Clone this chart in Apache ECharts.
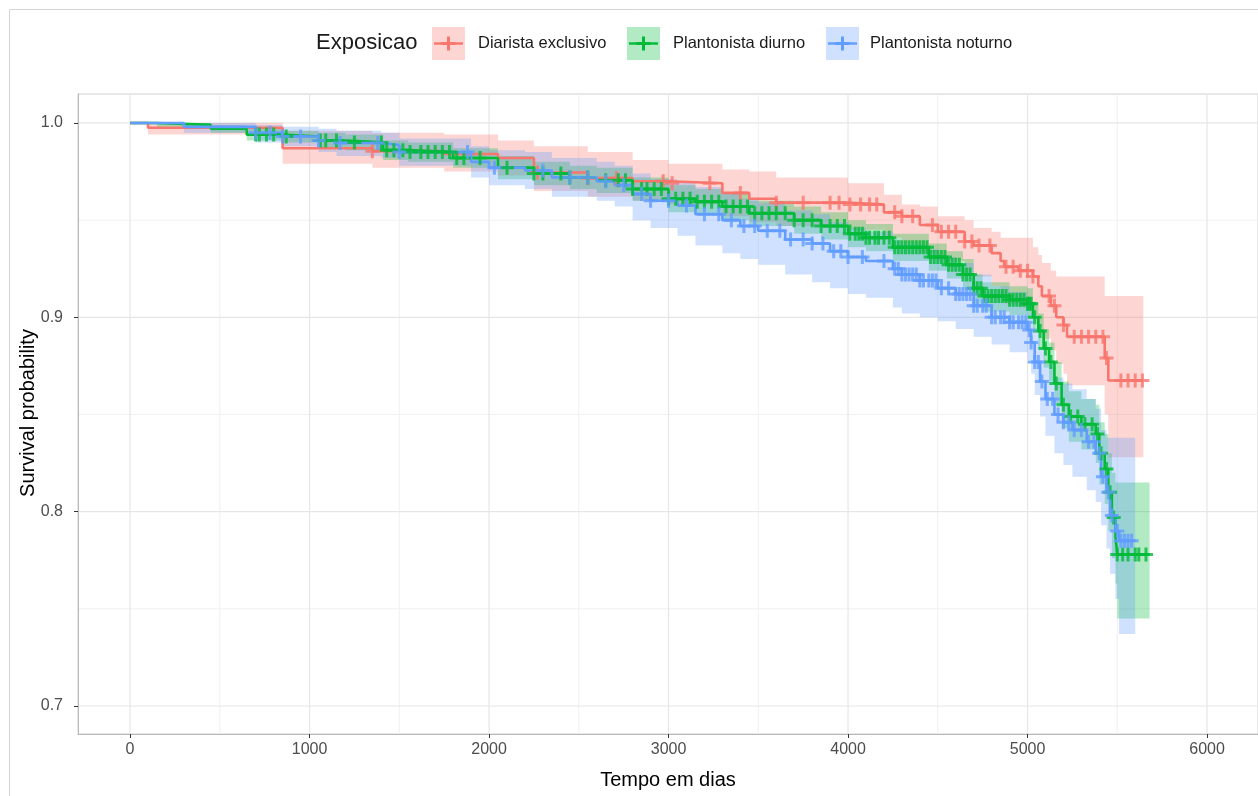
<!DOCTYPE html>
<html>
<head>
<meta charset="utf-8">
<script src="https://cdn.jsdelivr.net/npm/echarts@6/dist/echarts.min.js"></script>
<style>
  html, body { margin: 0; padding: 0; background: #fff; }
  #chart { width: 1258px; height: 796px; }
</style>
</head>
<body>
<div id="chart"></div>
<script>
// Diarista exclusivo
var T_RED = [0, 100, 850, 1350, 1750, 2050, 2250, 2550, 2800, 3000, 3300, 3450, 3600, 4000, 4200, 4300, 4400, 4500, 4650, 4700, 4800, 4850, 4870, 4950, 5030, 5060, 5080, 5130, 5160, 5200, 5220, 5430, 5450, 5645];
var S_RED = [1.0, 0.9975, 0.987, 0.9855, 0.984, 0.982, 0.9745, 0.9716, 0.970, 0.969, 0.964, 0.961, 0.959, 0.958, 0.954, 0.952, 0.9475, 0.944, 0.939, 0.937, 0.933, 0.929, 0.926, 0.924, 0.921, 0.916, 0.911, 0.906, 0.900, 0.896, 0.890, 0.879, 0.8675, 0.8675];
var U_RED = [1.0, 1.0, 0.996, 0.995, 0.994, 0.991, 0.988, 0.985, 0.981, 0.979, 0.976, 0.975, 0.972, 0.969, 0.963, 0.958, 0.957, 0.952, 0.950, 0.946, 0.944, 0.941, 0.941, 0.941, 0.936, 0.932, 0.928, 0.924, 0.921, 0.921, 0.921, 0.911, 0.911, 0.911];
var L_RED = [1.0, 0.994, 0.979, 0.977, 0.975, 0.973, 0.965, 0.962, 0.960, 0.958, 0.952, 0.949, 0.947, 0.945, 0.941, 0.938, 0.933, 0.929, 0.923, 0.921, 0.916, 0.911, 0.907, 0.905, 0.901, 0.895, 0.889, 0.883, 0.876, 0.871, 0.865, 0.850, 0.828, 0.828];
var C_RED = [1350, 2270, 2550, 2710, 2970, 3020, 3230, 3400, 3600, 3750, 3900, 3950, 4010, 4070, 4120, 4160, 4260, 4300, 4360, 4470, 4520, 4560, 4600, 4650, 4690, 4730, 4790, 4880, 4920, 4960, 5000, 5030, 5120, 5150, 5200, 5260, 5300, 5340, 5380, 5420, 5440, 5520, 5560, 5600, 5640];

// Plantonista diurno
var T_GREEN = [0, 150, 450, 650, 850, 1050, 1200, 1410, 1550, 1800, 2050, 2250, 2450, 2600, 2800, 3000, 3150, 3300, 3450, 3700, 3850, 4000, 4100, 4250, 4450, 4550, 4640, 4700, 4750, 4900, 5000, 5030, 5060, 5090, 5120, 5150, 5190, 5230, 5300, 5380, 5400, 5430, 5450, 5470, 5490, 5500, 5680];
var S_GREEN = [1.0, 0.999, 0.997, 0.994, 0.993, 0.991, 0.990, 0.986, 0.985, 0.982, 0.977, 0.974, 0.972, 0.9705, 0.966, 0.961, 0.9595, 0.957, 0.9535, 0.950, 0.947, 0.943, 0.941, 0.936, 0.931, 0.927, 0.922, 0.915, 0.911, 0.909, 0.907, 0.900, 0.893, 0.884, 0.877, 0.866, 0.855, 0.849, 0.845, 0.840, 0.830, 0.822, 0.810, 0.797, 0.787, 0.778, 0.778];
var U_GREEN = [1.0, 1.0, 0.999, 0.997, 0.996, 0.995, 0.994, 0.991, 0.990, 0.987, 0.983, 0.980, 0.978, 0.977, 0.972, 0.968, 0.966, 0.964, 0.960, 0.957, 0.954, 0.950, 0.948, 0.943, 0.938, 0.934, 0.930, 0.922, 0.918, 0.916, 0.915, 0.908, 0.902, 0.894, 0.887, 0.877, 0.867, 0.862, 0.858, 0.855, 0.846, 0.840, 0.830, 0.820, 0.815, 0.815, 0.815];
var L_GREEN = [1.0, 0.998, 0.995, 0.991, 0.990, 0.987, 0.986, 0.981, 0.980, 0.977, 0.971, 0.968, 0.966, 0.964, 0.960, 0.954, 0.953, 0.950, 0.947, 0.943, 0.940, 0.936, 0.934, 0.929, 0.924, 0.920, 0.914, 0.907, 0.903, 0.901, 0.899, 0.892, 0.884, 0.874, 0.867, 0.855, 0.843, 0.836, 0.832, 0.825, 0.814, 0.804, 0.790, 0.776, 0.763, 0.745, 0.745];
var C_GREEN = [700, 720, 760, 800, 870, 1060, 1090, 1150, 1250, 1400, 1430, 1470, 1520, 1560, 1620, 1660, 1700, 1740, 1780, 1820, 1860, 1950, 2100, 2250, 2300, 2400, 2450, 2550, 2650, 2720, 2760, 2800, 2850, 2880, 2920, 2960, 3000, 3040, 3080, 3120, 3160, 3200, 3240, 3280, 3320, 3360, 3400, 3440, 3480, 3520, 3560, 3600, 3650, 3700, 3750, 3800, 3850, 3900, 3940, 3980, 4010, 4040, 4060, 4080, 4100, 4120, 4150, 4170, 4200, 4230, 4260, 4280, 4300, 4320, 4340, 4360, 4380, 4400, 4420, 4440, 4460, 4480, 4500, 4520, 4540, 4560, 4580, 4600, 4620, 4640, 4660, 4680, 4700, 4720, 4740, 4760, 4780, 4800, 4820, 4840, 4860, 4880, 4900, 4920, 4940, 4960, 4980, 5000, 5010, 5020, 5040, 5070, 5100, 5130, 5160, 5200, 5240, 5280, 5320, 5360, 5390, 5410, 5440, 5460, 5480, 5500, 5530, 5560, 5600, 5620, 5660];

// Plantonista noturno
var T_BLUE = [0, 300, 700, 850, 1050, 1150, 1400, 1500, 1900, 2000, 2200, 2350, 2600, 2700, 2800, 2900, 3050, 3150, 3300, 3400, 3500, 3650, 3800, 3900, 4000, 4100, 4250, 4300, 4400, 4500, 4600, 4700, 4800, 4900, 5000, 5020, 5040, 5070, 5100, 5150, 5200, 5250, 5330, 5380, 5410, 5440, 5460, 5490, 5510, 5600];
var S_BLUE = [1.0, 0.998, 0.995, 0.993, 0.991, 0.9897, 0.9887, 0.985, 0.980, 0.977, 0.9755, 0.972, 0.970, 0.968, 0.9635, 0.960, 0.9575, 0.953, 0.950, 0.947, 0.9445, 0.940, 0.938, 0.934, 0.931, 0.929, 0.925, 0.922, 0.919, 0.915, 0.912, 0.906, 0.900, 0.8975, 0.8935, 0.887, 0.877, 0.867, 0.858, 0.850, 0.846, 0.842, 0.836, 0.830, 0.818, 0.810, 0.798, 0.790, 0.785, 0.785];
var U_BLUE = [1.0, 1.0, 0.999, 0.998, 0.997, 0.996, 0.995, 0.992, 0.988, 0.986, 0.985, 0.982, 0.980, 0.978, 0.974, 0.971, 0.970, 0.967, 0.964, 0.961, 0.959, 0.955, 0.953, 0.949, 0.946, 0.944, 0.940, 0.938, 0.935, 0.931, 0.928, 0.922, 0.916, 0.913, 0.909, 0.902, 0.893, 0.884, 0.876, 0.869, 0.866, 0.863, 0.858, 0.853, 0.842, 0.838, 0.838, 0.838, 0.838, 0.838];
var L_BLUE = [1.0, 0.995, 0.990, 0.988, 0.985, 0.983, 0.982, 0.978, 0.972, 0.968, 0.966, 0.962, 0.960, 0.957, 0.950, 0.946, 0.942, 0.937, 0.933, 0.930, 0.927, 0.922, 0.918, 0.915, 0.912, 0.910, 0.905, 0.902, 0.900, 0.898, 0.894, 0.890, 0.886, 0.882, 0.878, 0.871, 0.860, 0.849, 0.839, 0.830, 0.824, 0.818, 0.811, 0.805, 0.793, 0.781, 0.768, 0.755, 0.737, 0.737];
var C_BLUE = [700, 780, 850, 950, 1050, 1170, 1380, 1500, 1880, 2030, 2300, 2450, 2550, 2650, 2750, 2850, 2900, 3000, 3100, 3200, 3280, 3350, 3420, 3480, 3550, 3620, 3680, 3750, 3800, 3860, 3920, 3960, 4000, 4080, 4200, 4260, 4280, 4300, 4320, 4340, 4360, 4380, 4400, 4420, 4450, 4470, 4490, 4520, 4560, 4600, 4620, 4640, 4660, 4680, 4700, 4720, 4750, 4770, 4800, 4820, 4850, 4870, 4900, 4920, 4950, 4970, 4990, 5010, 5020, 5040, 5060, 5080, 5110, 5140, 5170, 5200, 5230, 5260, 5300, 5340, 5370, 5400, 5420, 5450, 5470, 5500, 5520, 5540, 5560, 5580];

var X_MAJOR = [0, 1000, 2000, 3000, 4000, 5000, 6000];
var X_MINOR = [500, 1500, 2500, 3500, 4500, 5500];
var Y_MAJOR = [0.7, 0.8, 0.9, 1.0];
var Y_MINOR = [0.75, 0.85, 0.95];

var NAMES = ['Diarista exclusivo', 'Plantonista diurno', 'Plantonista noturno'];
var COLORS = ['#F8766D', '#00BA38', '#619CFF'];
var FILLS = ['rgba(248,118,109,0.3)', 'rgba(0,186,56,0.3)', 'rgba(97,156,255,0.3)'];
var FONT = '"Liberation Sans", Arial, sans-serif';
// plus sign, ggplot shape 3
var PLUS = 'path://M5.5,0H8.5V5.5H14V8.5H8.5V14H5.5V8.5H0V5.5H5.5Z';

function survAt(t, s, x) {
    var v = s[0];
    for (var i = 0; i < t.length; i++) {
        if (t[i] <= x) v = s[i];
    }
    return v;
}

function gridSeries(values, dir, color, width) {
    return {
        type: 'custom', z: 0, silent: true, animation: false,
        data: values.map(function (v) { return dir === 'x' ? [v, 0.8] : [3000, v]; }),
        renderItem: function (params, api) {
            var cs = params.coordSys;
            if (dir === 'x') {
                var x = api.coord([api.value(0), 0.8])[0];
                return { type: 'line', shape: { x1: x, y1: cs.y, x2: x, y2: cs.y + cs.height }, style: { stroke: color, lineWidth: width } };
            }
            var y = api.coord([3000, api.value(1)])[1];
            return { type: 'line', shape: { x1: cs.x, y1: y, x2: cs.x + cs.width, y2: y }, style: { stroke: color, lineWidth: width } };
        }
    };
}

function bandSeries(t, u, l, fill) {
    return {
        type: 'custom', z: 1, silent: true, animation: false,
        data: [[t[0], u[0]]],
        renderItem: function (params, api) {
            var pts = [];
            for (var i = 0; i < t.length; i++) {
                pts.push(api.coord([t[i], u[i]]));
                if (i + 1 < t.length) pts.push(api.coord([t[i + 1], u[i]]));
            }
            for (var j = t.length - 1; j >= 0; j--) {
                if (j + 1 < t.length) pts.push(api.coord([t[j + 1], l[j]]));
                pts.push(api.coord([t[j], l[j]]));
            }
            return { type: 'polygon', shape: { points: pts }, style: { fill: fill } };
        }
    };
}

function lineSeries(t, s, color) {
    return {
        type: 'line', z: 2, step: 'end', symbol: 'none', silent: true,
        data: t.map(function (v, i) { return [v, s[i]]; }),
        lineStyle: { color: color, width: 2.6 }
    };
}

function censorSeries(c, t, s, color) {
    return {
        type: 'scatter', z: 3, silent: true, symbol: PLUS, symbolSize: 14,
        data: c.map(function (v) { return [v, survAt(t, s, v)]; }),
        itemStyle: { color: color }
    };
}

function legendKey(x, i) {
    return [
        { type: 'rect', shape: { x: x, y: 27, width: 33, height: 33 }, style: { fill: FILLS[i] } },
        { type: 'line', shape: { x1: x + 2, y1: 43.5, x2: x + 31, y2: 43.5 }, style: { stroke: COLORS[i], lineWidth: 2.4 } },
        { type: 'rect', shape: { x: x + 9.5, y: 42, width: 14, height: 3 }, style: { fill: COLORS[i] } },
        { type: 'rect', shape: { x: x + 15, y: 36.5, width: 3, height: 14 }, style: { fill: COLORS[i] } }
    ];
}

var graphics = [
    { type: 'line', shape: { x1: 9.5, y1: 9.5, x2: 1258, y2: 9.5 }, style: { stroke: '#d4d4d4', lineWidth: 1 } },
    { type: 'line', shape: { x1: 9.5, y1: 9.5, x2: 9.5, y2: 796 }, style: { stroke: '#d4d4d4', lineWidth: 1 } },
    { type: 'text', x: 316, y: 43, style: { text: 'Exposicao', font: '22px ' + FONT, fill: '#1a1a1a', verticalAlign: 'middle' } },
    { type: 'text', x: 28, y: 413, rotation: Math.PI / 2, style: { text: 'Survival probability', font: '20px ' + FONT, fill: '#000', align: 'center', verticalAlign: 'middle' } }
];
var keyX = [432, 627, 826];
var labX = [478, 673, 870];
for (var k = 0; k < 3; k++) {
    graphics = graphics.concat(legendKey(keyX[k], k));
    graphics.push({ type: 'text', x: labX[k], y: 43, style: { text: NAMES[k], font: '16.5px ' + FONT, fill: '#1a1a1a', verticalAlign: 'middle' } });
}

var chart = echarts.init(document.getElementById('chart'), null, { renderer: 'canvas' });
chart.setOption({
    animation: false,
    backgroundColor: '#fff',
    grid: { left: 78, top: 94, right: 0, bottom: 62, show: true, borderColor: '#d0d0d0', borderWidth: 1, backgroundColor: 'transparent' },
    xAxis: {
        type: 'value', min: -290, max: 6284,
        splitLine: { show: false },
        axisLine: { show: true, onZero: false, lineStyle: { color: '#b8b8b8', width: 1 } },
        axisTick: { show: true, length: 4, lineStyle: { color: '#333' }, customValues: X_MAJOR },
        axisLabel: {
            customValues: X_MAJOR, color: '#4d4d4d', fontSize: 16, fontFamily: FONT, margin: 8,
            formatter: function (v) { return String(v); }
        },
        name: 'Tempo em dias', nameLocation: 'middle', nameGap: 36,
        nameTextStyle: { color: '#000', fontSize: 20, fontFamily: FONT }
    },
    yAxis: {
        type: 'value', min: 0.6856, max: 1.0149,
        splitLine: { show: false },
        axisLine: { show: true, onZero: false, lineStyle: { color: '#b8b8b8', width: 1 } },
        axisTick: { show: true, length: 4, lineStyle: { color: '#333' }, customValues: Y_MAJOR },
        axisLabel: {
            customValues: Y_MAJOR, color: '#4d4d4d', fontSize: 16, fontFamily: FONT, margin: 15,
            formatter: function (v) { return v.toFixed(1); }
        }
    },
    graphic: graphics,
    series: [
        gridSeries(X_MINOR, 'x', '#f0f0f0', 1),
        gridSeries(Y_MINOR, 'y', '#f0f0f0', 1),
        gridSeries(X_MAJOR, 'x', '#e6e6e6', 1.2),
        gridSeries(Y_MAJOR, 'y', '#e6e6e6', 1.2),
        bandSeries(T_RED, U_RED, L_RED, FILLS[0]),
        bandSeries(T_GREEN, U_GREEN, L_GREEN, FILLS[1]),
        bandSeries(T_BLUE, U_BLUE, L_BLUE, FILLS[2]),
        lineSeries(T_RED, S_RED, COLORS[0]),
        lineSeries(T_GREEN, S_GREEN, COLORS[1]),
        lineSeries(T_BLUE, S_BLUE, COLORS[2]),
        censorSeries(C_RED, T_RED, S_RED, COLORS[0]),
        censorSeries(C_GREEN, T_GREEN, S_GREEN, COLORS[1]),
        censorSeries(C_BLUE, T_BLUE, S_BLUE, COLORS[2])
    ]
});
</script>
</body>
</html>
